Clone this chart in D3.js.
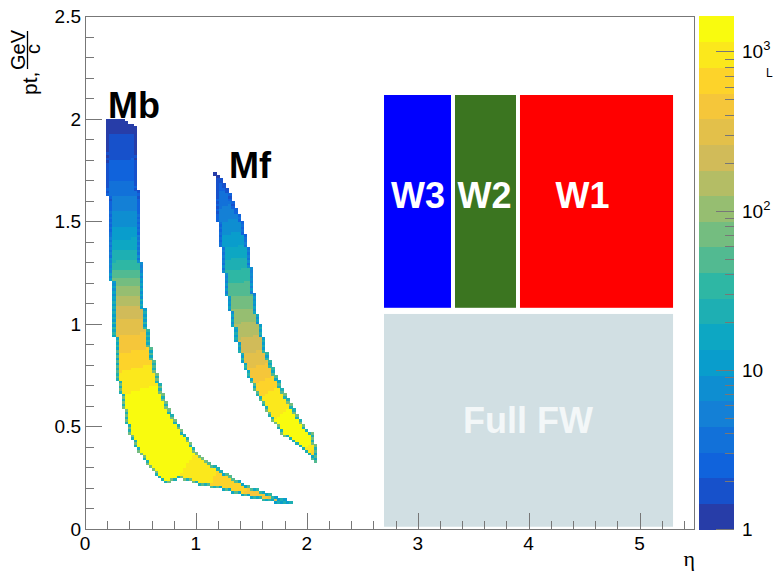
<!DOCTYPE html>
<html><head><meta charset="utf-8">
<script src="https://cdn.jsdelivr.net/npm/d3@7"></script>
<style>html,body{margin:0;padding:0;background:#fff;}svg{display:block;font-family:"Liberation Sans",Arial,Helvetica,sans-serif;}</style>
</head><body><svg id="c" width="774" height="572"></svg>
<script>
// ---------------- data ----------------
const etaRange = [0, 5.5];
const ptRange = [0, 2.5];
const nBinsEta = 200, nBinsPt = 200;
const zMin = 1, zMax = 1670, nContours = 20;

const xTickValues = [0, 1, 2, 3, 4, 5];
const xTickLabels = ["0", "1", "2", "3", "4", "5"];
const yTickValues = [0, 0.5, 1, 1.5, 2, 2.5];
const yTickLabels = ["0", "0.5", "1", "1.5", "2", "2.5"];
const zTickValues = [1, 10, 100, 1000];
const zTickBase = ["1", "10", "10", "10"];
const zTickExp = ["", "", "2", "3"];

// outline of the Mb band (eta, pt)
const mbOutline = [
  [0.198,1.998],[0.333,2.003],[0.405,1.979],[0.459,1.954],[0.468,1.798],[0.486,1.603],
  [0.505,1.360],[0.514,1.213],[0.523,1.131],[0.541,1.053],[0.568,0.955],[0.604,0.858],
  [0.649,0.760],[0.703,0.663],[0.739,0.604],[0.784,0.556],[0.856,0.497],[0.946,0.424],
  [1.009,0.370],[1.099,0.331],[1.216,0.292],[1.333,0.249],[1.459,0.214],[1.577,0.190],
  [1.685,0.166],[1.757,0.151],[1.874,0.132],[1.802,0.127],[1.694,0.132],[1.486,0.156],
  [1.279,0.190],[1.036,0.214],[0.892,0.244],[0.829,0.249],[0.766,0.229],[0.712,0.229],
  [0.586,0.302],[0.468,0.385],[0.405,0.458],[0.360,0.531],[0.333,0.629],[0.306,0.677],
  [0.279,0.760],[0.270,0.863],[0.252,1.004],[0.243,1.116],[0.234,1.213],[0.216,1.360],
  [0.207,1.603],[0.198,1.798]
];
// counts along the middle of Mb (eta, pt, entries)
const mbProfile = [
  [0.33,2.00,1.2],[0.33,1.85,1.8],[0.34,1.70,3],[0.35,1.60,5],[0.36,1.50,8],[0.37,1.40,15],
  [0.38,1.30,30],[0.385,1.20,75],[0.39,1.10,170],[0.40,1.00,300],[0.42,0.90,480],[0.45,0.80,750],
  [0.49,0.70,1100],[0.54,0.60,1450],[0.60,0.50,1650],[0.70,0.42,1650],[0.85,0.34,1300],
  [1.00,0.29,1000],[1.20,0.245,750],[1.45,0.20,550],[1.70,0.16,350],[1.86,0.135,150]
];
// outline of the Mf band
const mfOutline = [
  [1.162,1.735],[1.243,1.701],[1.333,1.603],[1.423,1.491],[1.486,1.345],[1.514,1.199],
  [1.550,1.053],[1.595,0.970],[1.640,0.858],[1.712,0.760],[1.784,0.677],[1.874,0.595],
  [1.982,0.497],[2.054,0.468],[2.090,0.385],[2.090,0.327],[2.063,0.322],[2.027,0.361],
  [1.910,0.414],[1.757,0.473],[1.640,0.575],[1.514,0.687],[1.423,0.804],[1.351,0.936],
  [1.279,1.140],[1.252,1.248],[1.216,1.408],[1.180,1.569],[1.171,1.715]
];
const mfProfile = [
  [1.17,1.73,2],[1.21,1.65,3],[1.28,1.55,5],[1.33,1.45,9],[1.37,1.35,16],[1.39,1.25,32],
  [1.41,1.15,55],[1.43,1.05,100],[1.46,0.95,170],[1.50,0.85,280],[1.55,0.75,470],
  [1.62,0.66,780],[1.70,0.60,1000],[1.80,0.53,1250],[1.92,0.47,1450],[2.00,0.42,1300],[2.07,0.36,600]
];
const bandNames = ["Mb", "Mf"];
const bandNameAnchor = [[0.207, 2.003], [1.298, 1.71]];

// detector regions
const regionNames = ["W3", "W2", "W1", "Full FW"];
const regionEta = [[2.696, 3.300], [3.336, 3.886], [3.922, 5.302], [2.696, 5.302]];
const regionPt = [[1.078, 2.115], [1.078, 2.115], [1.078, 2.115], [0.011, 1.048]];
const regionColors = ["#0000ff", "#3b7520", "#ff0000", "#d1dfe3"];
const regionTextColors = ["#ffffff", "#ffffff", "#ffffff", "#f3f7f8"];
const regionLabelAnchor = [[3.003, 1.564], [3.602, 1.564], [4.486, 1.564], [3.995, 0.468]];

// ROOT kBird palette
const birdStops = [0, 0.125, 0.25, 0.375, 0.5, 0.625, 0.75, 0.875, 1];
const birdR = [0.2082, 0.0592, 0.0780, 0.0232, 0.1802, 0.5301, 0.8186, 0.9956, 0.9764];
const birdG = [0.1664, 0.3599, 0.5041, 0.6419, 0.7178, 0.7492, 0.7328, 0.7862, 0.9832];
const birdB = [0.5293, 0.8684, 0.8385, 0.7914, 0.6425, 0.4662, 0.3499, 0.1968, 0.0539];

// ---------------- drawing ----------------
const svg = d3.select("#c");
const x = d3.scaleLinear().domain(etaRange).range([85, 695]);
const y = d3.scaleLinear().domain(ptRange).range([529, 16]);
const z = d3.scaleLog().domain([zMin, zMax]).range([529, 16]);

const rScale = d3.scaleLinear().domain(birdStops).range(birdR);
const gScale = d3.scaleLinear().domain(birdStops).range(birdG);
const bScale = d3.scaleLinear().domain(birdStops).range(birdB);
function bird(t) {
  return d3.rgb(rScale(t) * 255, gScale(t) * 255, bScale(t) * 255).formatHex();
}
function bandColor(b) {
  const idx = Math.min(254, Math.floor((b + 0.99) * 255 / nContours));
  return bird(idx / 254);
}
const logMax = Math.log10(zMax), logMin = Math.log10(zMin);
function bandOf(c) {
  const b = Math.floor((Math.log10(c) - logMin) / (logMax - logMin) * nContours);
  return Math.max(0, Math.min(nContours - 1, b));
}

const dEta = (etaRange[1] - etaRange[0]) / nBinsEta;
const dPt = (ptRange[1] - ptRange[0]) / nBinsPt;

function profileLog(eta, pt, prof) {
  const px = x(eta), py = y(pt);
  let best = Infinity, val = 0;
  for (let k = 0; k < prof.length - 1; k++) {
    const ax = x(prof[k][0]), ay = y(prof[k][1]);
    const bx = x(prof[k + 1][0]), by = y(prof[k + 1][1]);
    const vx = bx - ax, vy = by - ay, L2 = vx * vx + vy * vy;
    let u = ((px - ax) * vx + (py - ay) * vy) / L2;
    u = Math.max(0, Math.min(1, u));
    const dx = ax + u * vx - px, dy = ay + u * vy - py, d = dx * dx + dy * dy;
    if (d < best) {
      best = d;
      const la = Math.log10(prof[k][2]), lb = Math.log10(prof[k + 1][2]);
      val = la + (lb - la) * u;
    }
  }
  return val;
}

function buildCells(outline, prof) {
  const inside = new Set();
  const etas = outline.map(d => d[0]), pts = outline.map(d => d[1]);
  const i0 = Math.floor(d3.min(etas) / dEta) - 2, i1 = Math.ceil(d3.max(etas) / dEta) + 2;
  const j0 = Math.floor(d3.min(pts) / dPt) - 2, j1 = Math.ceil(d3.max(pts) / dPt) + 2;
  const key = (i, j) => i * 1000 + j;
  for (let i = i0; i <= i1; i++)
    for (let j = j0; j <= j1; j++)
      if (d3.polygonContains(outline, [(i + 0.5) * dEta, (j + 0.5) * dPt])) inside.add(key(i, j));
  const cells = [];
  for (let i = i0; i <= i1; i++)
    for (let j = j0; j <= j1; j++) {
      if (!inside.has(key(i, j))) continue;
      const ring1 = !inside.has(key(i + 1, j)) || !inside.has(key(i - 1, j)) ||
                    !inside.has(key(i, j + 1)) || !inside.has(key(i, j - 1));
      let lc = profileLog((i + 0.5) * dEta, (j + 0.5) * dPt, prof);
      if (ring1) lc *= ((i + j) % 2 ? 0.6 : 0.45);
      if (lc < 0) continue;
      cells.push({ eta: i * dEta, pt: j * dPt, count: Math.pow(10, lc) });
    }
  return cells;
}

const cells = buildCells(mbOutline, mbProfile).concat(buildCells(mfOutline, mfProfile));

// regions
const reg = svg.append("g");
regionNames.forEach((name, k) => {
  reg.append("rect")
    .attr("x", x(regionEta[k][0])).attr("y", y(regionPt[k][1]))
    .attr("width", x(regionEta[k][1]) - x(regionEta[k][0]))
    .attr("height", y(regionPt[k][0]) - y(regionPt[k][1]))
    .attr("fill", regionColors[k]);
  reg.append("text")
    .attr("x", x(regionLabelAnchor[k][0])).attr("y", y(regionLabelAnchor[k][1]))
    .attr("text-anchor", "middle").attr("font-weight", "bold").attr("font-size", 36)
    .attr("fill", regionTextColors[k]).text(name);
});

// histogram cells
const cw = x(dEta) - x(0), ch = y(0) - y(dPt);
svg.append("g").attr("shape-rendering", "crispEdges")
  .selectAll("rect").data(cells).join("rect")
  .attr("x", d => x(d.eta)).attr("y", d => y(d.pt) - ch)
  .attr("width", cw + 0.5).attr("height", ch + 0.5)
  .attr("fill", d => bandColor(bandOf(d.count)));

// band names
bandNames.forEach((n, k) => {
  svg.append("text").attr("x", x(bandNameAnchor[k][0])).attr("y", y(bandNameAnchor[k][1]))
    .attr("font-weight", "bold").attr("font-size", 36).attr("fill", "#000").text(n);
});

// frame & axes
const axisColor = "#777";
const ax = svg.append("g").attr("shape-rendering", "crispEdges").attr("stroke", axisColor).attr("fill", "none");
ax.append("rect").attr("x", 85.5).attr("y", 16.5).attr("width", 609).attr("height", 512.5);
d3.range(0, 5.5001, 0.2).forEach(v => {
  const major = Math.abs(v - Math.round(v)) < 1e-6;
  ax.append("line").attr("x1", Math.round(x(v)) + 0.5).attr("x2", Math.round(x(v)) + 0.5)
    .attr("y1", 529).attr("y2", 529 - (major ? 16 : 8));
});
d3.range(0, 2.5001, 0.1).forEach(v => {
  const major = Math.abs(v * 2 - Math.round(v * 2)) < 1e-6;
  ax.append("line").attr("y1", Math.round(y(v)) + 0.5).attr("y2", Math.round(y(v)) + 0.5)
    .attr("x1", 85).attr("x2", 85 + (major ? 17 : 8.5));
});
xTickValues.forEach((v, k) => {
  svg.append("text").attr("x", x(v)).attr("y", 550).attr("text-anchor", "middle")
    .attr("font-size", 19).text(xTickLabels[k]);
});
yTickValues.forEach((v, k) => {
  svg.append("text").attr("x", 81).attr("y", y(v) + 7).attr("text-anchor", "end")
    .attr("font-size", 19).text(yTickLabels[k]);
});
// axis titles
svg.append("text").attr("x", 695).attr("y", 566).attr("text-anchor", "end")
  .attr("font-family", "'Liberation Serif','DejaVu Serif',serif").attr("font-size", 22).text("η");
const yt = svg.append("g").attr("transform", "rotate(-90)");
yt.append("text").attr("x", -95).attr("y", 37).attr("font-size", 21).text("pt,");
yt.append("text").attr("x", -50).attr("y", 25).attr("text-anchor", "middle").attr("font-size", 20).text("GeV");
yt.append("text").attr("x", -49).attr("y", 40).attr("text-anchor", "middle").attr("font-size", 20).text("c");
yt.append("line").attr("x1", -69).attr("x2", -31).attr("y1", 27.5).attr("y2", 27.5)
  .attr("stroke", "#000").attr("stroke-width", 1.3);

// colour bar
const cb = svg.append("g");
const levelEdges = d3.range(nContours + 1).map(i => Math.pow(10, logMin + (logMax - logMin) * i / nContours));
cb.selectAll("rect").data(d3.range(nContours)).join("rect")
  .attr("shape-rendering", "crispEdges")
  .attr("x", 699).attr("width", 35)
  .attr("y", i => z(levelEdges[i + 1])).attr("height", i => z(levelEdges[i]) - z(levelEdges[i + 1]) + 0.6)
  .attr("fill", i => bandColor(i));
const zMinor = [];
[1, 10, 100, 1000].forEach(dec => { for (let m = 2; m <= 9; m++) if (dec * m <= zMax) zMinor.push(dec * m); });
zMinor.forEach(v => cb.append("line").attr("shape-rendering", "crispEdges").attr("stroke", axisColor)
  .attr("x1", 733.5).attr("x2", 725).attr("y1", Math.round(z(v)) + 0.5).attr("y2", Math.round(z(v)) + 0.5));
zTickValues.forEach((v, k) => {
  cb.append("line").attr("shape-rendering", "crispEdges").attr("stroke", axisColor)
    .attr("x1", 733.5).attr("x2", 716).attr("y1", Math.round(z(v)) + 0.5).attr("y2", Math.round(z(v)) + 0.5);
  const t = cb.append("text").attr("x", 742).attr("y", z(v) + 7).attr("font-size", 19);
  t.append("tspan").text(zTickBase[k]);
  if (zTickExp[k]) t.append("tspan").attr("font-size", 13).attr("dy", -8).text(zTickExp[k]);
});
cb.append("text").attr("x", 766).attr("y", 77).attr("font-size", 12).text("L");
</script></body></html>
